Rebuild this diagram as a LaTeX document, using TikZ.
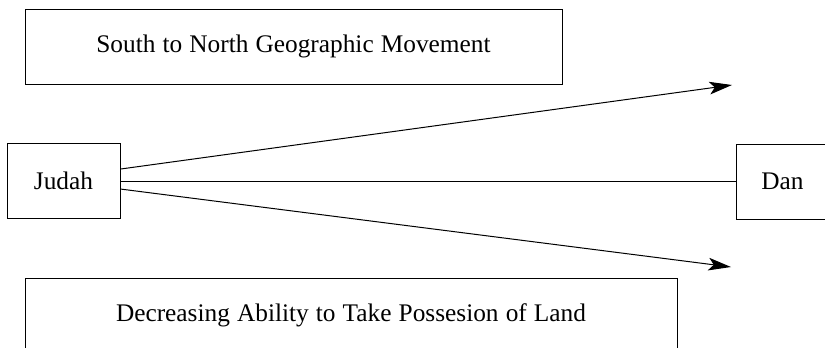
\documentclass[tikz,border=0pt]{standalone}
\usepackage{fontspec}
\setmainfont{Liberation Serif}
\usetikzlibrary{arrows.meta}
\newcommand\boxfont{\fontsize{19}{21}\selectfont\spaceskip 0.28em plus 0.1em\relax}
\begin{document}
\begin{tikzpicture}[x=0.75pt,y=-0.75pt,
  box/.style={draw,line width=0.75pt,inner sep=0pt,font=\boxfont},
  conn/.style={line width=0.75pt},
  arr/.style={conn,-{Stealth[length=17pt,width=9.5pt,inset=4pt]}}]
\useasboundingbox (0,0) rectangle (825,347);
\clip (0,0) rectangle (825,347);
\node[box,minimum width=402.75pt,minimum height=56.25pt] (top) at (293.5,46.5) {South to North Geographic Movement};
\node[box,minimum width=84.75pt,minimum height=56.25pt] (judah) at (63.5,180.5) {Judah};
\node[box,minimum width=69.75pt,minimum height=56.25pt] (dan) at (782.5,181.5) {Dan};
\node[box,minimum width=489pt,minimum height=55.5pt] (bottom) at (351,315) {Decreasing Ability to Take Possesion of Land};
\coordinate (t1) at (732,85);
\coordinate (t2) at (731,267);
\draw[arr] ([yshift=8.6pt]judah.east) -- (t1);
\draw[conn] (judah.east |- dan.west) -- (dan.west);
\draw[arr] ([yshift=-6.4pt]judah.east) -- (t2);
\end{tikzpicture}
\end{document}
